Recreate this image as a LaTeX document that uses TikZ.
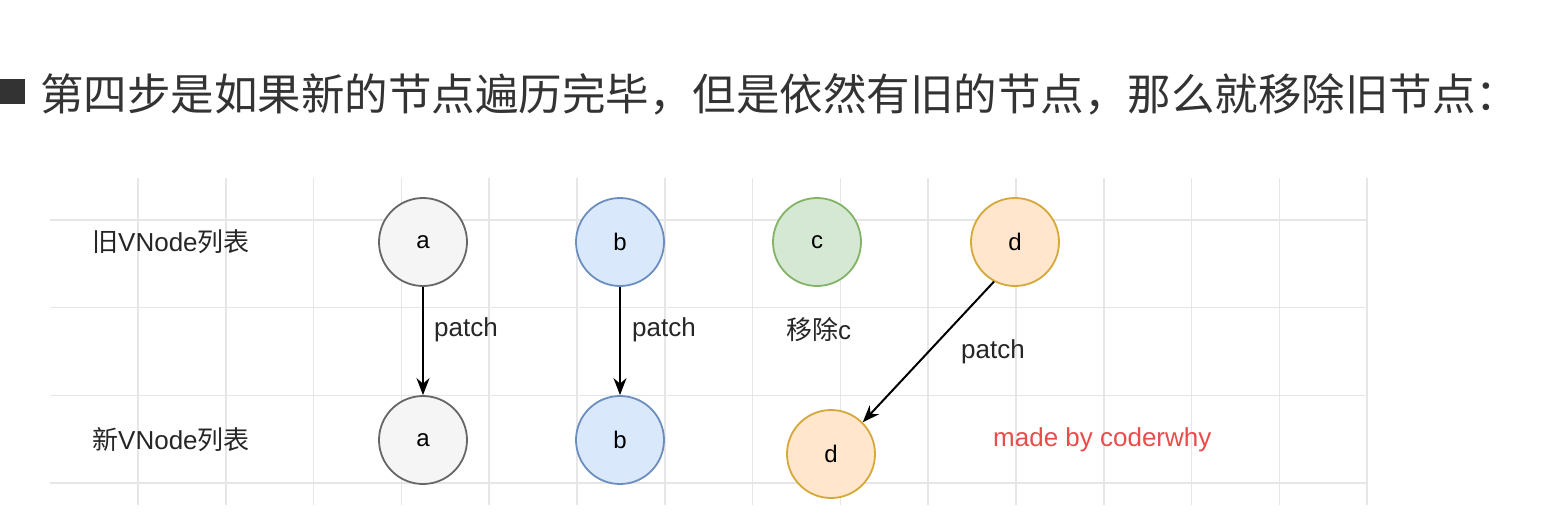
\documentclass[tikz,border=0pt]{standalone}
\usepackage{fontspec}
\setmainfont{Liberation Sans}
\newfontfamily\cjk{Noto Sans CJK SC}
\usetikzlibrary{arrows.meta}
\definecolor{gridc}{HTML}{E6E6E6}
\definecolor{txt}{HTML}{333333}
\definecolor{afill}{HTML}{F5F5F5}\definecolor{adraw}{HTML}{666666}
\definecolor{bfill}{HTML}{DAE8FC}\definecolor{bdraw}{HTML}{6C8EBF}
\definecolor{cfill}{HTML}{D5E8D4}\definecolor{cdraw}{HTML}{82B366}
\definecolor{dfill}{HTML}{FFE6CC}\definecolor{ddraw}{HTML}{D6A83A}
\definecolor{redt}{HTML}{EA4B4B}
\begin{document}
\begin{tikzpicture}[x=1pt,y=-1pt,
  vn/.style={circle,draw,line width=1.8pt,minimum size=88pt,inner sep=0pt,font=\fontsize{24}{28}\selectfont,text=black},
  nodea/.style={vn,draw=adraw,fill=afill},
  nodeb/.style={vn,draw=bdraw,fill=bfill},
  nodec/.style={vn,draw=cdraw,fill=cfill},
  noded/.style={vn,draw=ddraw,fill=dfill},
  lbl/.style={font=\fontsize{26}{30}\selectfont,text=black!85},
  conn/.style={line width=2pt,-{Stealth[length=17pt,width=13pt]}}]
\useasboundingbox[fill=white] (0,0) rectangle (1542,522);
% grid
\foreach \i in {0,...,14} {
  \draw[gridc,line width=1.5pt] ({138+87.8*\i},178) -- ({138+87.8*\i},505);
}
\foreach \j in {0,...,3} {
  \draw[gridc,line width=1.5pt] (50,{220+87.7*\j}) -- (1368,{220+87.7*\j});
}
% title
\fill[txt] (0,79) rectangle (25,104);
\node[anchor=west,inner sep=0pt,text=txt,font=\cjk\fontsize{43.5}{48}\selectfont] (title) at (40,94) {第四步是如果新的节点遍历完毕，但是依然有旧的节点，那么就移除旧节点：};
% row labels
\node[lbl,anchor=west,inner sep=0pt] (oldl) at (92,242) {{\cjk 旧}VNode{\cjk 列表}};
\node[lbl,anchor=west,inner sep=0pt] (newl) at (92,440) {{\cjk 新}VNode{\cjk 列表}};
% old nodes
\node[nodea] (oa) at (423,242) {a};
\node[nodeb] (ob) at (620,242) {b};
\node[nodec] (oc) at (817,242) {c};
\node[noded] (od) at (1015,242) {d};
% new nodes
\node[nodea] (na) at (423,440) {a};
\node[nodeb] (nb) at (620,440) {b};
\node[noded] (nd) at (831,454) {d};
% connectors
\draw[conn] (oa) -- (na);
\draw[conn] (ob) -- (nb);
\draw[conn] (od.-118) -- (nd.45);
\node[lbl,anchor=west,inner sep=0pt] (p1) at (434,330) {patch};
\node[lbl,anchor=west,inner sep=0pt] (p2) at (632,330) {patch};
\node[lbl,anchor=west,inner sep=0pt] (p3) at (961,352) {patch};
\node[lbl,anchor=west,inner sep=0pt] (rm) at (786,330) {{\cjk 移除}c};
\node[lbl,anchor=west,inner sep=0pt,text=redt] (mb) at (993,440) {made by coderwhy};
\end{tikzpicture}
\end{document}
